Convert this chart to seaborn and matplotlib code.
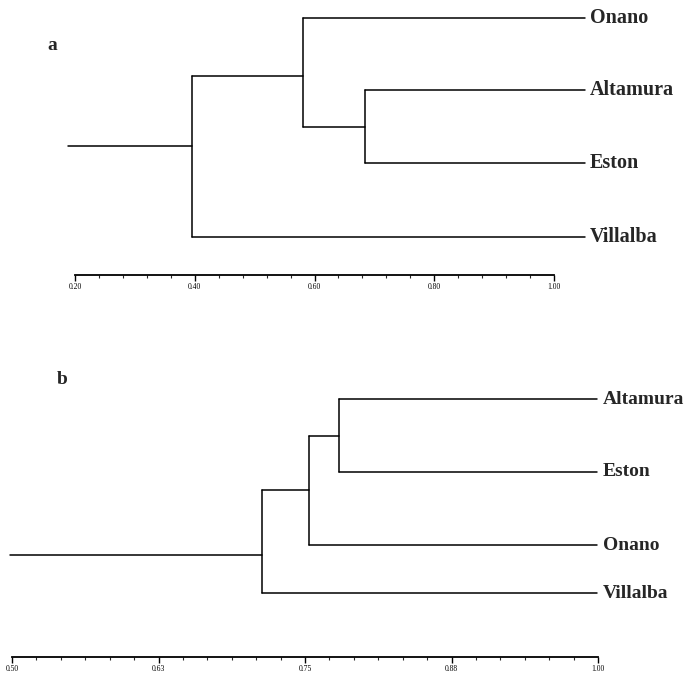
import matplotlib
matplotlib.use("Agg")
import matplotlib.pyplot as plt
from matplotlib.ticker import FixedLocator, AutoMinorLocator
import seaborn as sns
import pandas as pd

# ---------------- data ----------------
# panel a
leaves_a = ["Onano", "Altamura", "Eston", "Villalba"]
tip_a = 1.052
# merges: (child1, child2, height) ; children are leaf names or merge indices
merges_a = [("Altamura", "Eston", 0.684), ("Onano", 0, 0.581), (1, "Villalba", 0.395)]
root_a = 0.188
ticks_a = [0.20, 0.40, 0.60, 0.80, 1.00]
ticklabels_a = ["0.20", "0.40", "0.60", "0.80", "1.00"]

# panel b
leaves_b = ["Altamura", "Eston", "Onano", "Villalba"]
tip_b = 0.999
merges_b = [("Altamura", "Eston", 0.779), (0, "Onano", 0.753), (1, "Villalba", 0.713)]
root_b = 0.498
ticks_b = [0.50, 0.625, 0.75, 0.875, 1.00]
ticklabels_b = ["0.50", "0.63", "0.75", "0.88", "1.00"]

# ---------------- layout (pixels) ----------------
W, H = 684, 674
leaf_y_a = [18, 90, 163, 237]
leaf_y_b = [399, 472, 545, 593]
stem_y_a = {1: 76, 2: 146}
stem_y_b = {2: 555}

sns.set_style("white")
plt.rcParams["font.family"] = ["Liberation Serif", "DejaVu Serif"]

fig = plt.figure(figsize=(W / 100, H / 100), dpi=100)


def tree_segments(leaves, leaf_y, tip, merges, root, stem_y):
    pos = {name: (tip, y) for name, y in zip(leaves, leaf_y)}
    segs = []
    sid = 0
    for i, (c1, c2, h) in enumerate(merges):
        p1, p2 = pos[c1], pos[c2]
        for p in (p1, p2):
            segs += [(sid, h, p[1]), (sid, p[0], p[1])]
            sid += 1
        segs += [(sid, h, p1[1]), (sid, h, p2[1])]
        sid += 1
        pos[i] = (h, stem_y.get(i, (p1[1] + p2[1]) / 2))
    top = pos[len(merges) - 1]
    segs += [(sid, root, top[1]), (sid, top[0], top[1])]
    return pd.DataFrame(segs, columns=["seg", "x", "y"]), pos


def draw_panel(x0, x1, xlo, xhi, ytop, ybot, leaves, leaf_y, tip, merges, root, stem_y,
               ticks, ticklabels, nminor, label_off, fs):
    ax = fig.add_axes([x0 / W, 1 - ybot / H, (x1 - x0) / W, (ybot - ytop) / H])
    df, pos = tree_segments(leaves, leaf_y, tip, merges, root, stem_y)
    sns.lineplot(data=df, x="x", y="y", units="seg", estimator=None, sort=False,
                 color="black", lw=1.1, ax=ax, clip_on=False, legend=False)
    ax.set_xlim(xlo, xhi)
    ax.set_ylim(ybot, ytop)
    for name, y in zip(leaves, leaf_y):
        ax.annotate(name, (tip, y), xytext=(label_off, 0), textcoords="offset points",
                    ha="left", va="center", fontsize=fs, fontweight="bold",
                    annotation_clip=False)
    sns.despine(ax=ax, left=True)
    ax.spines["bottom"].set_linewidth(1.3)
    ax.spines["bottom"].set_color("black")
    ax.set_yticks([])
    ax.xaxis.set_major_locator(FixedLocator(ticks))
    ax.set_xticklabels(ticklabels)
    ax.xaxis.set_minor_locator(AutoMinorLocator(nminor))
    ax.tick_params(axis="x", which="major", direction="out", length=4, width=1,
                   bottom=True, labelsize=5.5, pad=1.5, colors="black")
    ax.tick_params(axis="x", which="minor", direction="out", length=2, width=0.8,
                   bottom=True)
    ax.set_xlabel("")
    ax.set_ylabel("")
    return ax


draw_panel(75, 554, 0.20, 1.00, 5, 275, leaves_a, leaf_y_a, tip_a, merges_a, root_a, stem_y_a,
           ticks_a, ticklabels_a, 5, 3.5, 14.5)
draw_panel(12, 598, 0.50, 1.00, 380, 657, leaves_b, leaf_y_b, tip_b, merges_b, root_b, stem_y_b,
           ticks_b, ticklabels_b, 6, 4.5, 14)

fig.text(52 / W, 1 - 45 / H, "a", fontsize=14, fontweight="bold", ha="center", va="center")
fig.text(62 / W, 1 - 380 / H, "b", fontsize=14, fontweight="bold", ha="center", va="center")

fig.savefig("out.png", dpi=100, facecolor="white")
